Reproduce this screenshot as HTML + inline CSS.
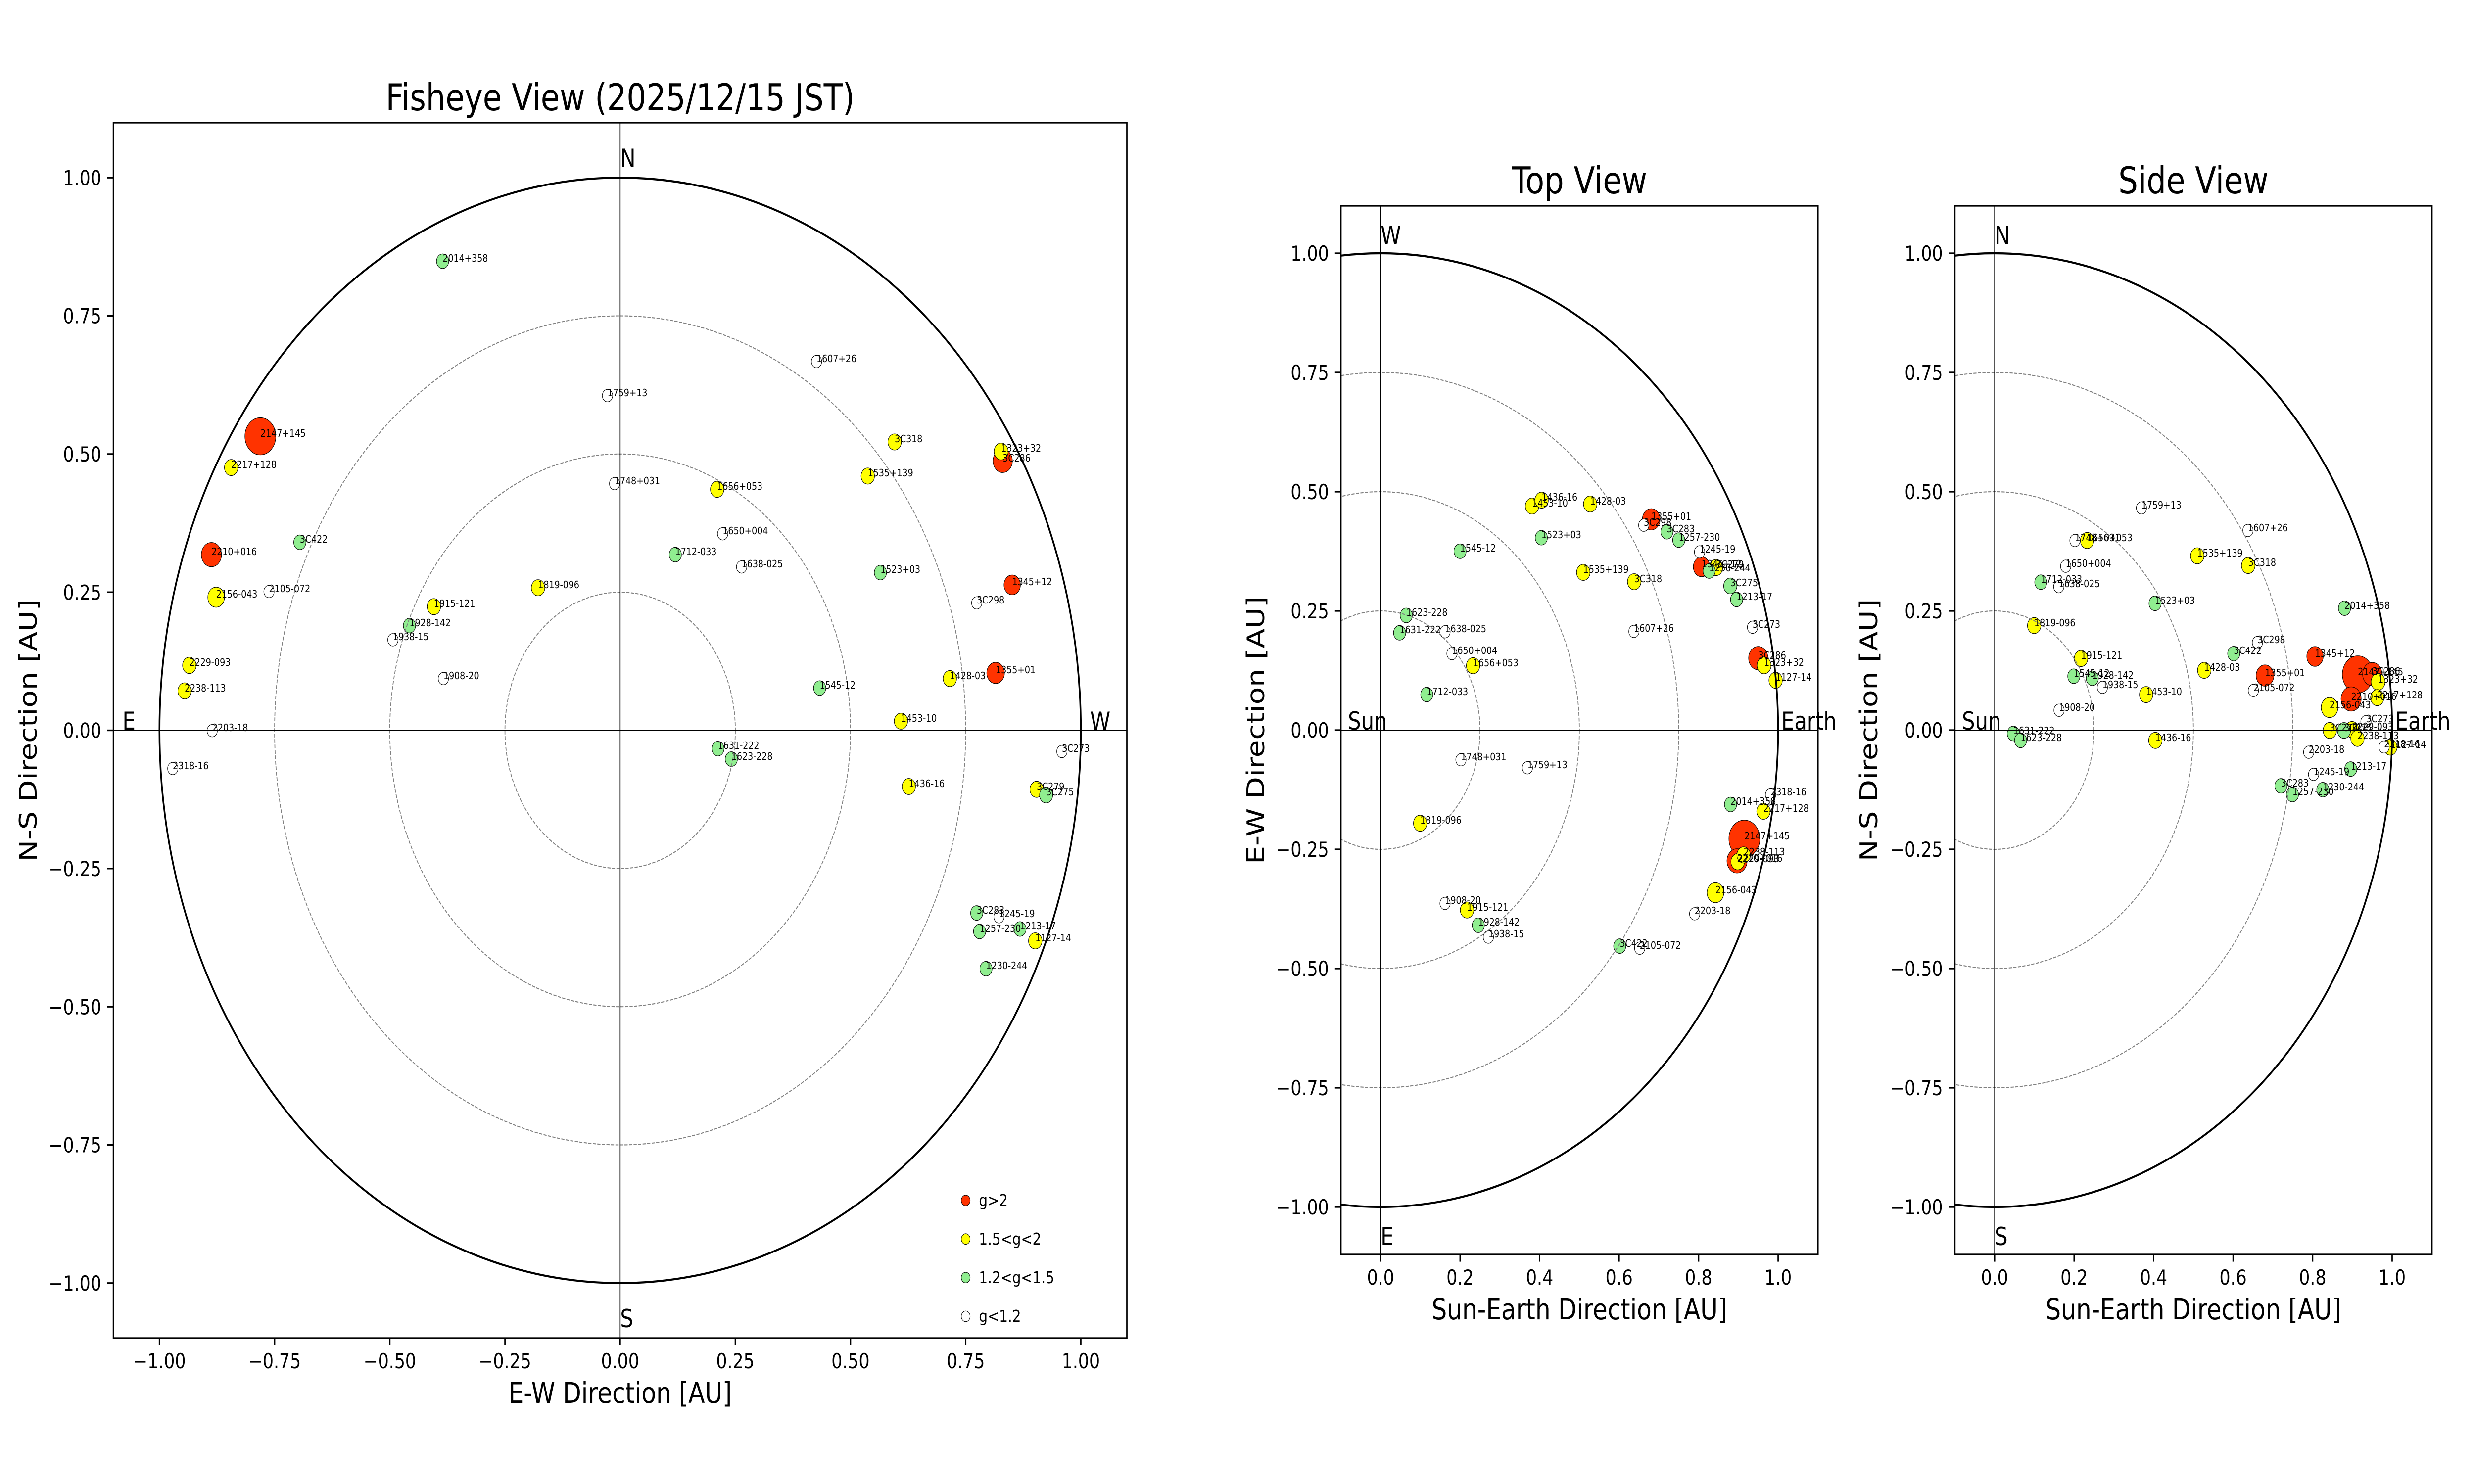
<!DOCTYPE html>
<html><head><meta charset="utf-8"><style>
html,body{margin:0;padding:0;background:#fff;overflow:hidden;width:100%;height:100%;}
svg{display:block;position:absolute;left:0;top:0;width:100vw;height:100vh;}
text{font-family:"DejaVu Sans","Liberation Sans",sans-serif;fill:#000;}
.r{fill:#ff3300}.y{fill:#ffff00}.g{fill:#90ee90}.w{fill:#ffffff}
.p circle{stroke:#000;stroke-width:1.2}
.lb text{font-size:20.83px}
.tk text{font-size:41.67px}
.ty text{text-anchor:end}
.tx text{text-anchor:middle}
.ax text{font-size:58.33px;text-anchor:middle}
.ti text{font-size:75px;text-anchor:middle}
.dir text{font-size:50px}
.lg text{font-size:33.33px}
.dash{fill:none;stroke:#808080;stroke-width:2.08;stroke-dasharray:7.7 3.3}
.uc{fill:none;stroke:#000;stroke-width:4.17}
.cl{stroke:#000;stroke-width:2}
.sp{fill:none;stroke:#000;stroke-width:3.33}
.tm{stroke:#000;stroke-width:3.33}
</style></head><body>
<svg xmlns="http://www.w3.org/2000/svg" viewBox="0 0 6000 3000" preserveAspectRatio="none">
<defs>
<clipPath id="ca"><rect x="275" y="248" width="2458" height="2457"/></clipPath>
<clipPath id="cb"><rect x="3252" y="416" width="1157" height="2120"/></clipPath>
<clipPath id="cc"><rect x="4741" y="416" width="1157" height="2120"/></clipPath>
</defs>
<rect width="6000" height="3000" fill="#fff"/>

<!-- ================= FISHEYE ================= -->
<g clip-path="url(#ca)">
<g class="p">
<circle class="r" cx="631.4" cy="882" r="37.5"/>
<circle class="r" cx="512.8" cy="1121.2" r="24.5"/>
<circle class="r" cx="2431.8" cy="931.8" r="23.5"/>
<circle class="r" cx="2454.8" cy="1182.4" r="20"/>
<circle class="r" cx="2414.6" cy="1360.4" r="21.5"/>
<circle class="y" cx="2169.7" cy="893.5" r="16.3"/>
<circle class="y" cx="2428" cy="912.6" r="17"/>
<circle class="y" cx="560.6" cy="945.2" r="16.3"/>
<circle class="y" cx="2104.6" cy="962.4" r="16.3"/>
<circle class="y" cx="1739.2" cy="989.2" r="16.3"/>
<circle class="y" cx="524.2" cy="1207.3" r="20.3"/>
<circle class="y" cx="1304.9" cy="1188.2" r="16.3"/>
<circle class="y" cx="1052.3" cy="1226.4" r="16.3"/>
<circle class="y" cx="459.2" cy="1345.1" r="16.5"/>
<circle class="y" cx="2303.6" cy="1371.8" r="16.3"/>
<circle class="y" cx="447.7" cy="1396.7" r="16.3"/>
<circle class="y" cx="2185" cy="1457.9" r="16.3"/>
<circle class="y" cx="2204.1" cy="1590" r="16.3"/>
<circle class="y" cx="2514.1" cy="1595.7" r="16.3"/>
<circle class="y" cx="2510.7" cy="1902" r="16.3"/>
<circle class="g" cx="1073.4" cy="528.1" r="14.8"/>
<circle class="g" cx="727.1" cy="1096.3" r="14.8"/>
<circle class="g" cx="1637.8" cy="1121.2" r="14.8"/>
<circle class="g" cx="2135.2" cy="1157.5" r="14.8"/>
<circle class="g" cx="993" cy="1264.7" r="14.8"/>
<circle class="g" cx="1987.9" cy="1391" r="14.8"/>
<circle class="g" cx="1741.1" cy="1513.4" r="14.8"/>
<circle class="g" cx="1773.6" cy="1534.5" r="14.8"/>
<circle class="g" cx="2537.1" cy="1607.2" r="16"/>
<circle class="g" cx="2368.7" cy="1845.7" r="14.8"/>
<circle class="g" cx="2473.7" cy="1878" r="14.8"/>
<circle class="g" cx="2375.7" cy="1883" r="14.8"/>
<circle class="g" cx="2391.3" cy="1958.3" r="14.8"/>
<circle class="w" cx="1980.3" cy="730.9" r="12.5"/>
<circle class="w" cx="1473.2" cy="799.8" r="12.5"/>
<circle class="w" cx="1490.5" cy="977.7" r="12.5"/>
<circle class="w" cx="1752.6" cy="1079.1" r="12.5"/>
<circle class="w" cx="1798.5" cy="1146.1" r="12.5"/>
<circle class="w" cx="652.4" cy="1195.8" r="12.5"/>
<circle class="w" cx="2368.7" cy="1218.8" r="12.5"/>
<circle class="w" cx="952.8" cy="1293.4" r="12.5"/>
<circle class="w" cx="1075.3" cy="1371.8" r="12.5"/>
<circle class="w" cx="514.7" cy="1477.1" r="12.5"/>
<circle class="w" cx="2575.3" cy="1519.2" r="12.5"/>
<circle class="w" cx="419" cy="1553.6" r="12.5"/>
<circle class="w" cx="2422.7" cy="1853.3" r="12.5"/>
</g>
<circle class="dash" cx="1504" cy="1476.5" r="279.3"/>
<circle class="dash" cx="1504" cy="1476.5" r="558.7"/>
<circle class="dash" cx="1504" cy="1476.5" r="838"/>
<circle class="uc" cx="1504" cy="1476.5" r="1117.3"/>
<line class="cl" x1="275" y1="1476.5" x2="2733" y2="1476.5"/>
<line class="cl" x1="1504" y1="248" x2="1504" y2="2705"/>
</g>
<g class="lb">
<text x="631.4" y="883">2147+145</text>
<text x="512.8" y="1122">2210+016</text>
<text x="2431.8" y="933">3C286</text>
<text x="2454.8" y="1183">1345+12</text>
<text x="2414.6" y="1361">1355+01</text>
<text x="2169.7" y="894">3C318</text>
<text x="2428" y="913">1323+32</text>
<text x="560.6" y="946">2217+128</text>
<text x="2104.6" y="963">1535+139</text>
<text x="1739.2" y="990">1656+053</text>
<text x="524.2" y="1208">2156-043</text>
<text x="1304.9" y="1189">1819-096</text>
<text x="1052.3" y="1227">1915-121</text>
<text x="459.2" y="1346">2229-093</text>
<text x="2303.6" y="1373">1428-03</text>
<text x="447.7" y="1398">2238-113</text>
<text x="2185" y="1459">1453-10</text>
<text x="2204.1" y="1591">1436-16</text>
<text x="2514.1" y="1597">3C279</text>
<text x="2510.7" y="1903">1127-14</text>
<text x="1073.4" y="529">2014+358</text>
<text x="727.1" y="1097">3C422</text>
<text x="1637.8" y="1122">1712-033</text>
<text x="2135.2" y="1158">1523+03</text>
<text x="993" y="1266">1928-142</text>
<text x="1987.9" y="1392">1545-12</text>
<text x="1741.1" y="1514">1631-222</text>
<text x="1773.6" y="1536">1623-228</text>
<text x="2537.1" y="1608">3C275</text>
<text x="2368.7" y="1847">3C283</text>
<text x="2473.7" y="1879">1213-17</text>
<text x="2375.7" y="1884">1257-230</text>
<text x="2391.3" y="1959">1230-244</text>
<text x="1980.3" y="732">1607+26</text>
<text x="1473.2" y="801">1759+13</text>
<text x="1490.5" y="979">1748+031</text>
<text x="1752.6" y="1080">1650+004</text>
<text x="1798.5" y="1147">1638-025</text>
<text x="652.4" y="1197">2105-072</text>
<text x="2368.7" y="1220">3C298</text>
<text x="952.8" y="1294">1938-15</text>
<text x="1075.3" y="1373">1908-20</text>
<text x="514.7" y="1478">2203-18</text>
<text x="2575.3" y="1520">3C273</text>
<text x="419" y="1555">2318-16</text>
<text x="2422.7" y="1854">1245-19</text>
</g>
<g class="dir">
<text x="1504" y="337">N</text>
<text x="1504" y="2683">S</text>
<text x="297" y="1475">E</text>
<text x="2643.6" y="1475">W</text>
</g>
<!-- legend -->
<g class="p">
<circle class="r" cx="2342" cy="2426.7" r="10.7"/>
<circle class="y" cx="2342" cy="2504.7" r="10.7"/>
<circle class="g" cx="2342" cy="2582.7" r="10.7"/>
<circle class="w" cx="2342" cy="2661" r="10.7"/>
</g>
<g class="lg">
<text x="2374" y="2438">g&gt;2</text>
<text x="2374" y="2516">1.5&lt;g&lt;2</text>
<text x="2374" y="2594">1.2&lt;g&lt;1.5</text>
<text x="2374" y="2672">g&lt;1.2</text>
</g>
<rect class="sp" x="275" y="248" width="2458" height="2457"/>
<g>
<line class="tm" x1="260.4" y1="359.2" x2="275" y2="359.2"/>
<line class="tm" x1="260.4" y1="638.5" x2="275" y2="638.5"/>
<line class="tm" x1="260.4" y1="917.9" x2="275" y2="917.9"/>
<line class="tm" x1="260.4" y1="1197.2" x2="275" y2="1197.2"/>
<line class="tm" x1="260.4" y1="1476.5" x2="275" y2="1476.5"/>
<line class="tm" x1="260.4" y1="1755.8" x2="275" y2="1755.8"/>
<line class="tm" x1="260.4" y1="2035.2" x2="275" y2="2035.2"/>
<line class="tm" x1="260.4" y1="2314.5" x2="275" y2="2314.5"/>
<line class="tm" x1="260.4" y1="2593.8" x2="275" y2="2593.8"/>
<line class="tm" x1="386.7" y1="2705" x2="386.7" y2="2719.6"/>
<line class="tm" x1="666" y1="2705" x2="666" y2="2719.6"/>
<line class="tm" x1="945.4" y1="2705" x2="945.4" y2="2719.6"/>
<line class="tm" x1="1224.7" y1="2705" x2="1224.7" y2="2719.6"/>
<line class="tm" x1="1504" y1="2705" x2="1504" y2="2719.6"/>
<line class="tm" x1="1783.3" y1="2705" x2="1783.3" y2="2719.6"/>
<line class="tm" x1="2062.7" y1="2705" x2="2062.7" y2="2719.6"/>
<line class="tm" x1="2342" y1="2705" x2="2342" y2="2719.6"/>
<line class="tm" x1="2621.3" y1="2705" x2="2621.3" y2="2719.6"/>
</g>
<g class="tk ty">
<text x="245.8" y="374.4">1.00</text>
<text x="245.8" y="653.7">0.75</text>
<text x="245.8" y="933.1">0.50</text>
<text x="245.8" y="1212.4">0.25</text>
<text x="245.8" y="1491.7">0.00</text>
<text x="245.8" y="1771">−0.25</text>
<text x="245.8" y="2050.4">−0.50</text>
<text x="245.8" y="2329.7">−0.75</text>
<text x="245.8" y="2609">−1.00</text>
</g>
<g class="tk tx">
<text x="386.7" y="2766">−1.00</text>
<text x="666" y="2766">−0.75</text>
<text x="945.4" y="2766">−0.50</text>
<text x="1224.7" y="2766">−0.25</text>
<text x="1504" y="2766">0.00</text>
<text x="1783.3" y="2766">0.25</text>
<text x="2062.7" y="2766">0.50</text>
<text x="2342" y="2766">0.75</text>
<text x="2621.3" y="2766">1.00</text>
</g>
<g class="ax">
<text x="1504" y="2836">E-W Direction [AU]</text>
<text x="89" y="1476.5" transform="rotate(-90 89 1476.5)">N-S Direction [AU]</text>
</g>
<g class="ti"><text x="1504" y="223">Fisheye View (2025/12/15 JST)</text></g>

<!-- ================= TOP VIEW ================= -->
<g clip-path="url(#cb)">
<g class="p">
<circle class="r" cx="4230.4" cy="1695.5" r="37.5"/>
<circle class="r" cx="4212.7" cy="1740.3" r="24.5"/>
<circle class="r" cx="4264.2" cy="1330.4" r="23.5"/>
<circle class="r" cx="4126.7" cy="1145.9" r="20"/>
<circle class="r" cx="4004.7" cy="1049.8" r="21.5"/>
<circle class="y" cx="3963.3" cy="1176" r="16.3"/>
<circle class="y" cx="4278.2" cy="1345.1" r="17"/>
<circle class="y" cx="4276.7" cy="1640" r="16.3"/>
<circle class="y" cx="3839.8" cy="1157.1" r="16.3"/>
<circle class="y" cx="3572.5" cy="1345.8" r="16.3"/>
<circle class="y" cx="4160.3" cy="1804.6" r="20.3"/>
<circle class="y" cx="3444.2" cy="1664.3" r="16.3"/>
<circle class="y" cx="3557.8" cy="1839.7" r="16.3"/>
<circle class="y" cx="4214.3" cy="1742" r="16.5"/>
<circle class="y" cx="3856.6" cy="1018.9" r="16.3"/>
<circle class="y" cx="4228.7" cy="1728.3" r="16.3"/>
<circle class="y" cx="3715.6" cy="1023.1" r="16.3"/>
<circle class="y" cx="3738.8" cy="1011.2" r="16.3"/>
<circle class="y" cx="4161.8" cy="1147.3" r="16.3"/>
<circle class="y" cx="4306.3" cy="1375.3" r="16.3"/>
<circle class="g" cx="4197" cy="1626.3" r="14.8"/>
<circle class="g" cx="3928.2" cy="1912.6" r="14.8"/>
<circle class="g" cx="3460.3" cy="1404" r="14.8"/>
<circle class="g" cx="3738.1" cy="1087" r="14.8"/>
<circle class="g" cx="3585.2" cy="1870.5" r="14.8"/>
<circle class="g" cx="3541" cy="1114.3" r="14.8"/>
<circle class="g" cx="3394.4" cy="1279.2" r="14.8"/>
<circle class="g" cx="3410.5" cy="1244.1" r="14.8"/>
<circle class="g" cx="4196.2" cy="1184.5" r="16"/>
<circle class="g" cx="4042.5" cy="1075" r="14.8"/>
<circle class="g" cx="4211.6" cy="1211.8" r="14.8"/>
<circle class="g" cx="4071.3" cy="1091.9" r="14.8"/>
<circle class="g" cx="4145" cy="1154.3" r="14.8"/>
<circle class="w" cx="3962.6" cy="1276.4" r="12.5"/>
<circle class="w" cx="3704.4" cy="1552.1" r="12.5"/>
<circle class="w" cx="3543.1" cy="1535.9" r="12.5"/>
<circle class="w" cx="3521.3" cy="1321.3" r="12.5"/>
<circle class="w" cx="3504.5" cy="1277.1" r="12.5"/>
<circle class="w" cx="3976.6" cy="1916.8" r="12.5"/>
<circle class="w" cx="3986.4" cy="1061.7" r="12.5"/>
<circle class="w" cx="3609.7" cy="1894.4" r="12.5"/>
<circle class="w" cx="3504.5" cy="1826.3" r="12.5"/>
<circle class="w" cx="4109.9" cy="1847.4" r="12.5"/>
<circle class="w" cx="4250.2" cy="1268" r="12.5"/>
<circle class="w" cx="4294" cy="1607" r="12.5"/>
<circle class="w" cx="4121.8" cy="1115.7" r="12.5"/>
</g>
<circle class="dash" cx="3348.3" cy="1476" r="241"/>
<circle class="dash" cx="3348.3" cy="1476" r="482"/>
<circle class="dash" cx="3348.3" cy="1476" r="723"/>
<circle class="uc" cx="3348.3" cy="1476" r="964"/>
<line class="cl" x1="3252" y1="1476" x2="4409" y2="1476"/>
<line class="cl" x1="3348.3" y1="416" x2="3348.3" y2="2536"/>
</g>
<g class="lb">
<text x="4230.4" y="1697">2147+145</text>
<text x="4212.7" y="1742">2210+016</text>
<text x="4264.2" y="1332">3C286</text>
<text x="4126.7" y="1147">1345+12</text>
<text x="4004.7" y="1051">1355+01</text>
<text x="3963.3" y="1177">3C318</text>
<text x="4278.2" y="1346">1323+32</text>
<text x="4276.7" y="1641">2217+128</text>
<text x="3839.8" y="1158">1535+139</text>
<text x="3572.5" y="1347">1656+053</text>
<text x="4160.3" y="1806">2156-043</text>
<text x="3444.2" y="1665">1819-096</text>
<text x="3557.8" y="1841">1915-121</text>
<text x="4214.3" y="1743">2229-093</text>
<text x="3856.6" y="1020">1428-03</text>
<text x="4228.7" y="1729">2238-113</text>
<text x="3715.6" y="1024">1453-10</text>
<text x="3738.8" y="1012">1436-16</text>
<text x="4161.8" y="1148">3C279</text>
<text x="4306.3" y="1376">1127-14</text>
<text x="4197" y="1627">2014+358</text>
<text x="3928.2" y="1914">3C422</text>
<text x="3460.3" y="1405">1712-033</text>
<text x="3738.1" y="1088">1523+03</text>
<text x="3585.2" y="1871">1928-142</text>
<text x="3541" y="1115">1545-12</text>
<text x="3394.4" y="1280">1631-222</text>
<text x="3410.5" y="1245">1623-228</text>
<text x="4196.2" y="1185">3C275</text>
<text x="4042.5" y="1076">3C283</text>
<text x="4211.6" y="1213">1213-17</text>
<text x="4071.3" y="1093">1257-230</text>
<text x="4145" y="1155">1230-244</text>
<text x="3962.6" y="1277">1607+26</text>
<text x="3704.4" y="1553">1759+13</text>
<text x="3543.1" y="1537">1748+031</text>
<text x="3521.3" y="1322">1650+004</text>
<text x="3504.5" y="1278">1638-025</text>
<text x="3976.6" y="1918">2105-072</text>
<text x="3986.4" y="1063">3C298</text>
<text x="3609.7" y="1895">1938-15</text>
<text x="3504.5" y="1827">1908-20</text>
<text x="4109.9" y="1848">2203-18</text>
<text x="4250.2" y="1269">3C273</text>
<text x="4294" y="1608">2318-16</text>
<text x="4121.8" y="1117">1245-19</text>
</g>
<g class="dir">
<text x="3348.3" y="493">W</text>
<text x="3348.3" y="2517">E</text>
<text x="3269" y="1475">Sun</text>
<text x="4320" y="1475">Earth</text>
</g>
<rect class="sp" x="3252" y="416" width="1157" height="2120"/>
<g>
<line class="tm" x1="3237.4" y1="512" x2="3252" y2="512"/>
<line class="tm" x1="3237.4" y1="753" x2="3252" y2="753"/>
<line class="tm" x1="3237.4" y1="994" x2="3252" y2="994"/>
<line class="tm" x1="3237.4" y1="1235" x2="3252" y2="1235"/>
<line class="tm" x1="3237.4" y1="1476" x2="3252" y2="1476"/>
<line class="tm" x1="3237.4" y1="1717" x2="3252" y2="1717"/>
<line class="tm" x1="3237.4" y1="1958" x2="3252" y2="1958"/>
<line class="tm" x1="3237.4" y1="2199" x2="3252" y2="2199"/>
<line class="tm" x1="3237.4" y1="2440" x2="3252" y2="2440"/>
<line class="tm" x1="3348.3" y1="2536" x2="3348.3" y2="2550.6"/>
<line class="tm" x1="3541.1" y1="2536" x2="3541.1" y2="2550.6"/>
<line class="tm" x1="3733.9" y1="2536" x2="3733.9" y2="2550.6"/>
<line class="tm" x1="3926.7" y1="2536" x2="3926.7" y2="2550.6"/>
<line class="tm" x1="4119.5" y1="2536" x2="4119.5" y2="2550.6"/>
<line class="tm" x1="4312.3" y1="2536" x2="4312.3" y2="2550.6"/>
</g>
<g class="tk ty">
<text x="3222.8" y="527.2">1.00</text>
<text x="3222.8" y="768.2">0.75</text>
<text x="3222.8" y="1009.2">0.50</text>
<text x="3222.8" y="1250.2">0.25</text>
<text x="3222.8" y="1491.2">0.00</text>
<text x="3222.8" y="1732.2">−0.25</text>
<text x="3222.8" y="1973.2">−0.50</text>
<text x="3222.8" y="2214.2">−0.75</text>
<text x="3222.8" y="2455.2">−1.00</text>
</g>
<g class="tk tx">
<text x="3348.3" y="2597">0.0</text>
<text x="3541.1" y="2597">0.2</text>
<text x="3733.9" y="2597">0.4</text>
<text x="3926.7" y="2597">0.6</text>
<text x="4119.5" y="2597">0.8</text>
<text x="4312.3" y="2597">1.0</text>
</g>
<g class="ax">
<text x="3830.5" y="2667">Sun-Earth Direction [AU]</text>
<text x="3066" y="1476" transform="rotate(-90 3066 1476)">E-W Direction [AU]</text>
</g>
<g class="ti"><text x="3830.5" y="391">Top View</text></g>

<!-- ================= SIDE VIEW ================= -->
<g clip-path="url(#cc)">
<g class="p">
<circle class="r" cx="5718.3" cy="1363.3" r="37.5"/>
<circle class="r" cx="5702" cy="1413" r="24.5"/>
<circle class="r" cx="5753.3" cy="1362.7" r="23.5"/>
<circle class="r" cx="5614.4" cy="1327" r="20"/>
<circle class="r" cx="5493.1" cy="1365.6" r="21.5"/>
<circle class="y" cx="5452.4" cy="1143.2" r="16.3"/>
<circle class="y" cx="5767.3" cy="1378.3" r="17"/>
<circle class="y" cx="5765.3" cy="1410.3" r="16.3"/>
<circle class="y" cx="5328.9" cy="1123.6" r="16.3"/>
<circle class="y" cx="5061.7" cy="1092.7" r="16.3"/>
<circle class="y" cx="5649.7" cy="1430.3" r="20.3"/>
<circle class="y" cx="4933.3" cy="1264.6" r="16.3"/>
<circle class="y" cx="5046.9" cy="1331.2" r="16.3"/>
<circle class="y" cx="5704" cy="1475" r="16.5"/>
<circle class="y" cx="5345.8" cy="1355.1" r="16.3"/>
<circle class="y" cx="5717.3" cy="1492.7" r="16.3"/>
<circle class="y" cx="5204.8" cy="1404.2" r="16.3"/>
<circle class="y" cx="5227.2" cy="1496.8" r="16.3"/>
<circle class="y" cx="5650.3" cy="1476.7" r="16.3"/>
<circle class="y" cx="5797" cy="1510.3" r="16.3"/>
<circle class="g" cx="5686" cy="1229.5" r="14.8"/>
<circle class="g" cx="5417.3" cy="1321.4" r="14.8"/>
<circle class="g" cx="4949.4" cy="1176.9" r="14.8"/>
<circle class="g" cx="5226.5" cy="1219.7" r="14.8"/>
<circle class="g" cx="5074.3" cy="1371.2" r="14.8"/>
<circle class="g" cx="5029.4" cy="1367" r="14.8"/>
<circle class="g" cx="4882.8" cy="1482.8" r="14.8"/>
<circle class="g" cx="4900.3" cy="1496.8" r="14.8"/>
<circle class="g" cx="5684.7" cy="1476.7" r="16"/>
<circle class="g" cx="5531.7" cy="1588.7" r="14.8"/>
<circle class="g" cx="5701" cy="1554.7" r="14.8"/>
<circle class="g" cx="5559.7" cy="1606.2" r="14.8"/>
<circle class="g" cx="5633.4" cy="1596.4" r="14.8"/>
<circle class="w" cx="5451.7" cy="1072.4" r="12.5"/>
<circle class="w" cx="5193.5" cy="1026.8" r="12.5"/>
<circle class="w" cx="5032.2" cy="1092.7" r="12.5"/>
<circle class="w" cx="5009.7" cy="1144.6" r="12.5"/>
<circle class="w" cx="4992.9" cy="1186" r="12.5"/>
<circle class="w" cx="5465" cy="1395.8" r="12.5"/>
<circle class="w" cx="5474.8" cy="1299" r="12.5"/>
<circle class="w" cx="5098.8" cy="1389.5" r="12.5"/>
<circle class="w" cx="4993.6" cy="1435.8" r="12.5"/>
<circle class="w" cx="5599" cy="1520.6" r="12.5"/>
<circle class="w" cx="5738" cy="1458.7" r="12.5"/>
<circle class="w" cx="5782" cy="1510" r="12.5"/>
<circle class="w" cx="5610.9" cy="1565.5" r="12.5"/>
</g>
<circle class="dash" cx="4837.4" cy="1476" r="241"/>
<circle class="dash" cx="4837.4" cy="1476" r="482"/>
<circle class="dash" cx="4837.4" cy="1476" r="723"/>
<circle class="uc" cx="4837.4" cy="1476" r="964"/>
<line class="cl" x1="4741" y1="1476" x2="5898" y2="1476"/>
<line class="cl" x1="4837.4" y1="416" x2="4837.4" y2="2536"/>
</g>
<g class="lb">
<text x="5718.3" y="1365">2147+145</text>
<text x="5702" y="1415">2210+016</text>
<text x="5753.3" y="1364">3C286</text>
<text x="5614.4" y="1328">1345+12</text>
<text x="5493.1" y="1367">1355+01</text>
<text x="5452.4" y="1144">3C318</text>
<text x="5767.3" y="1380">1323+32</text>
<text x="5765.3" y="1412">2217+128</text>
<text x="5328.9" y="1125">1535+139</text>
<text x="5061.7" y="1094">1656+053</text>
<text x="5649.7" y="1432">2156-043</text>
<text x="4933.3" y="1266">1819-096</text>
<text x="5046.9" y="1332">1915-121</text>
<text x="5704" y="1476">2229-093</text>
<text x="5345.8" y="1356">1428-03</text>
<text x="5717.3" y="1494">2238-113</text>
<text x="5204.8" y="1405">1453-10</text>
<text x="5227.2" y="1498">1436-16</text>
<text x="5650.3" y="1478">3C279</text>
<text x="5797" y="1512">1127-14</text>
<text x="5686" y="1231">2014+358</text>
<text x="5417.3" y="1322">3C422</text>
<text x="4949.4" y="1178">1712-033</text>
<text x="5226.5" y="1221">1523+03</text>
<text x="5074.3" y="1372">1928-142</text>
<text x="5029.4" y="1368">1545-12</text>
<text x="4882.8" y="1484">1631-222</text>
<text x="4900.3" y="1498">1623-228</text>
<text x="5684.7" y="1478">3C275</text>
<text x="5531.7" y="1590">3C283</text>
<text x="5701" y="1556">1213-17</text>
<text x="5559.7" y="1607">1257-230</text>
<text x="5633.4" y="1598">1230-244</text>
<text x="5451.7" y="1074">1607+26</text>
<text x="5193.5" y="1028">1759+13</text>
<text x="5032.2" y="1094">1748+031</text>
<text x="5009.7" y="1146">1650+004</text>
<text x="4992.9" y="1187">1638-025</text>
<text x="5465" y="1397">2105-072</text>
<text x="5474.8" y="1300">3C298</text>
<text x="5098.8" y="1391">1938-15</text>
<text x="4993.6" y="1437">1908-20</text>
<text x="5599" y="1522">2203-18</text>
<text x="5738" y="1460">3C273</text>
<text x="5782" y="1511">2318-16</text>
<text x="5610.9" y="1567">1245-19</text>
</g>
<g class="dir">
<text x="4837.4" y="493">N</text>
<text x="4837.4" y="2517">S</text>
<text x="4758" y="1475">Sun</text>
<text x="5809" y="1475">Earth</text>
</g>
<rect class="sp" x="4741" y="416" width="1157" height="2120"/>
<g>
<line class="tm" x1="4726.4" y1="512" x2="4741" y2="512"/>
<line class="tm" x1="4726.4" y1="753" x2="4741" y2="753"/>
<line class="tm" x1="4726.4" y1="994" x2="4741" y2="994"/>
<line class="tm" x1="4726.4" y1="1235" x2="4741" y2="1235"/>
<line class="tm" x1="4726.4" y1="1476" x2="4741" y2="1476"/>
<line class="tm" x1="4726.4" y1="1717" x2="4741" y2="1717"/>
<line class="tm" x1="4726.4" y1="1958" x2="4741" y2="1958"/>
<line class="tm" x1="4726.4" y1="2199" x2="4741" y2="2199"/>
<line class="tm" x1="4726.4" y1="2440" x2="4741" y2="2440"/>
<line class="tm" x1="4837.4" y1="2536" x2="4837.4" y2="2550.6"/>
<line class="tm" x1="5030.2" y1="2536" x2="5030.2" y2="2550.6"/>
<line class="tm" x1="5223" y1="2536" x2="5223" y2="2550.6"/>
<line class="tm" x1="5415.8" y1="2536" x2="5415.8" y2="2550.6"/>
<line class="tm" x1="5608.6" y1="2536" x2="5608.6" y2="2550.6"/>
<line class="tm" x1="5801.4" y1="2536" x2="5801.4" y2="2550.6"/>
</g>
<g class="tk ty">
<text x="4711.8" y="527.2">1.00</text>
<text x="4711.8" y="768.2">0.75</text>
<text x="4711.8" y="1009.2">0.50</text>
<text x="4711.8" y="1250.2">0.25</text>
<text x="4711.8" y="1491.2">0.00</text>
<text x="4711.8" y="1732.2">−0.25</text>
<text x="4711.8" y="1973.2">−0.50</text>
<text x="4711.8" y="2214.2">−0.75</text>
<text x="4711.8" y="2455.2">−1.00</text>
</g>
<g class="tk tx">
<text x="4837.4" y="2597">0.0</text>
<text x="5030.2" y="2597">0.2</text>
<text x="5223" y="2597">0.4</text>
<text x="5415.8" y="2597">0.6</text>
<text x="5608.6" y="2597">0.8</text>
<text x="5801.4" y="2597">1.0</text>
</g>
<g class="ax">
<text x="5319.5" y="2667">Sun-Earth Direction [AU]</text>
<text x="4553" y="1476" transform="rotate(-90 4553 1476)">N-S Direction [AU]</text>
</g>
<g class="ti"><text x="5319.5" y="391">Side View</text></g>
</svg>
</body></html>
